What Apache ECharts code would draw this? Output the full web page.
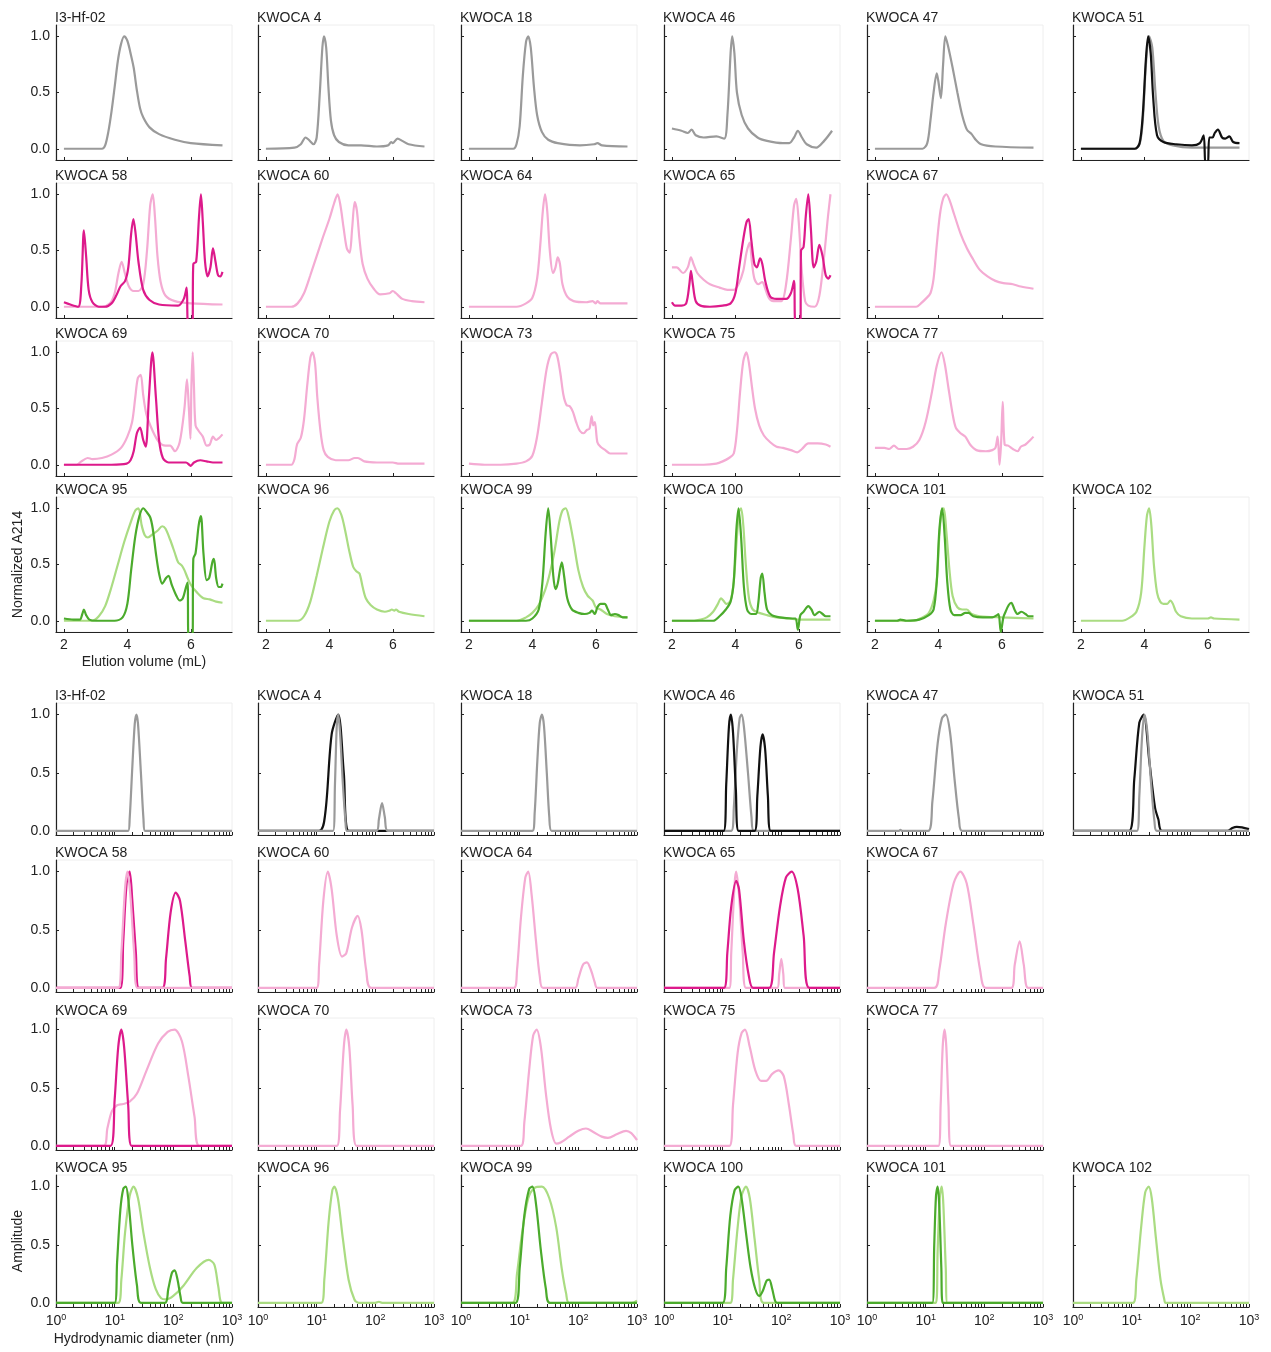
<!DOCTYPE html>
<html>
<head>
<meta charset="utf-8">
<title>SEC and DLS traces</title>
<script src="https://cdn.jsdelivr.net/npm/echarts@6/dist/echarts.min.js"></script>
<style>
html, body { margin: 0; padding: 0; background: #fff; }
#main { width: 1271px; height: 1352px; }
</style>
</head>
<body>
<div id="main"></div>
<script>
// ---------- SEC traces: [elution volume (mL), normalized A214] ----------
var s_I3Hf02 = [[2,0],[3.2,0],[3.3,0.03],[3.4,0.15],[3.5,0.33],[3.6,0.55],[3.7,0.78],[3.8,0.93],[3.9,1.0],[4.0,0.96],[4.1,0.85],[4.2,0.72],[4.3,0.52],[4.4,0.36],[4.5,0.28],[4.7,0.19],[5.0,0.13],[5.5,0.08],[6.0,0.05],[7.0,0.03]];
var s_K4 = [[2,0],[2.9,0.01],[3.1,0.04],[3.25,0.1],[3.35,0.08],[3.5,0.04],[3.6,0.1],[3.7,0.5],[3.78,0.9],[3.83,1.0],[3.9,0.9],[3.97,0.55],[4.05,0.25],[4.15,0.12],[4.3,0.06],[4.6,0.03],[5.0,0.03],[5.5,0.02],[5.85,0.03],[5.95,0.06],[6.0,0.05],[6.15,0.09],[6.3,0.07],[6.5,0.04],[7.0,0.02]];
var s_K18 = [[2,0],[3.4,0],[3.5,0.04],[3.6,0.2],[3.7,0.65],[3.8,0.95],[3.87,1.0],[3.95,0.9],[4.05,0.55],[4.15,0.3],[4.3,0.15],[4.5,0.08],[4.8,0.05],[5.5,0.03],[5.95,0.04],[6.05,0.05],[6.2,0.03],[7.0,0.02]];
var s_K46 = [[2,0.18],[2.3,0.16],[2.5,0.14],[2.62,0.17],[2.75,0.12],[3.0,0.1],[3.4,0.11],[3.65,0.09],[3.75,0.3],[3.85,0.85],[3.9,1.0],[3.97,0.85],[4.05,0.5],[4.2,0.3],[4.4,0.18],[4.7,0.1],[5.0,0.07],[5.5,0.05],[5.7,0.05],[5.85,0.1],[5.97,0.16],[6.1,0.1],[6.25,0.04],[6.55,0.01],[6.8,0.07],[7.05,0.16]];
var s_K47 = [[2,0],[3.5,0],[3.65,0.05],[3.75,0.25],[3.85,0.5],[3.95,0.67],[4.0,0.6],[4.08,0.45],[4.15,0.75],[4.22,1.0],[4.3,0.92],[4.45,0.72],[4.6,0.5],[4.75,0.3],[4.9,0.17],[5.05,0.13],[5.15,0.09],[5.35,0.04],[5.8,0.02],[7.0,0.01]];
var s_K51a = [[2,0],[3.7,0],[3.85,0.04],[3.95,0.25],[4.05,0.75],[4.15,1.0],[4.25,0.9],[4.35,0.5],[4.45,0.2],[4.6,0.07],[4.9,0.03],[5.5,0.01],[7.0,0.01]];
var s_K51b = [[2,0],[3.7,0],[3.85,0.05],[3.95,0.3],[4.05,0.8],[4.12,1.0],[4.2,0.85],[4.28,0.45],[4.4,0.12],[4.6,0.06],[5.0,0.04],[5.5,0.03],[5.75,0.05],[5.87,0.12],[5.93,-0.15],[6.0,-0.15],[6.05,0.1],[6.15,0.1],[6.22,0.14],[6.32,0.17],[6.45,0.1],[6.55,0.09],[6.68,0.11],[6.8,0.06],[7.0,0.05]];
var s_K58a = [[2,0],[3.2,0],[3.45,0.03],[3.6,0.12],[3.72,0.3],[3.82,0.4],[3.92,0.3],[4.05,0.18],[4.2,0.14],[4.35,0.14],[4.5,0.2],[4.62,0.5],[4.72,0.9],[4.8,1.0],[4.87,0.8],[4.95,0.45],[5.05,0.22],[5.2,0.1],[5.5,0.05],[6.0,0.03],[7.0,0.02]];
var s_K58b = [[2,0.04],[2.2,0.02],[2.45,0.0],[2.55,0.2],[2.63,0.68],[2.7,0.45],[2.78,0.15],[2.9,0.04],[3.1,0.0],[3.3,0.0],[3.5,0.03],[3.65,0.1],[3.78,0.18],[3.93,0.23],[4.03,0.35],[4.12,0.65],[4.19,0.78],[4.26,0.65],[4.35,0.4],[4.5,0.15],[4.7,0.06],[5.0,0.02],[5.6,0.01],[5.78,0.07],[5.87,0.17],[5.92,-0.15],[6.05,-0.15],[6.08,0.38],[6.17,0.4],[6.26,0.8],[6.32,1.0],[6.38,0.75],[6.45,0.4],[6.53,0.27],[6.62,0.35],[6.7,0.52],[6.78,0.4],[6.86,0.28],[6.93,0.27],[7.0,0.31]];
var s_K60 = [[2,0],[2.8,0],[3.0,0.03],[3.2,0.12],[3.4,0.28],[3.6,0.45],[3.8,0.62],[4.0,0.78],[4.15,0.92],[4.26,1.0],[4.35,0.9],[4.45,0.7],[4.55,0.52],[4.64,0.48],[4.72,0.7],[4.8,0.93],[4.87,0.85],[4.95,0.6],[5.05,0.38],[5.2,0.25],[5.4,0.16],[5.6,0.11],[5.9,0.12],[6.0,0.14],[6.1,0.12],[6.3,0.07],[6.6,0.05],[7.0,0.04]];
var s_K64 = [[2,0],[3.5,0],[3.8,0.03],[4.0,0.08],[4.15,0.25],[4.25,0.55],[4.33,0.85],[4.4,1.0],[4.47,0.85],[4.55,0.5],[4.65,0.3],[4.73,0.35],[4.8,0.44],[4.87,0.38],[4.95,0.2],[5.1,0.09],[5.3,0.05],[5.7,0.04],[5.9,0.05],[6.0,0.03],[6.05,0.05],[6.15,0.03],[7.0,0.03]];
var s_K65a = [[2,0.35],[2.15,0.35],[2.35,0.3],[2.5,0.35],[2.6,0.44],[2.68,0.38],[2.8,0.3],[3.0,0.24],[3.2,0.2],[3.5,0.17],[3.75,0.15],[3.95,0.15],[4.1,0.2],[4.25,0.32],[4.35,0.48],[4.45,0.57],[4.52,0.4],[4.6,0.25],[4.72,0.2],[4.85,0.22],[4.92,0.18],[5.05,0.08],[5.2,0.05],[5.45,0.05],[5.6,0.2],[5.75,0.6],[5.85,0.9],[5.92,0.96],[6.0,0.75],[6.1,0.3],[6.2,0.05],[6.3,0.01],[6.5,0.0],[6.65,0.1],[6.8,0.45],[6.92,0.8],[7.0,1.0]];
var s_K65b = [[2,0.04],[2.1,0.01],[2.3,0.01],[2.45,0.03],[2.55,0.2],[2.6,0.32],[2.66,0.2],[2.75,0.05],[2.9,0.01],[3.2,0.0],[3.6,0.01],[3.85,0.03],[4.0,0.12],[4.12,0.35],[4.25,0.6],[4.35,0.75],[4.42,0.78],[4.5,0.6],[4.6,0.38],[4.68,0.35],[4.78,0.43],[4.85,0.38],[4.95,0.22],[5.1,0.09],[5.3,0.07],[5.6,0.07],[5.75,0.12],[5.85,0.23],[5.9,-0.15],[6.05,-0.15],[6.07,0.5],[6.15,0.53],[6.22,0.8],[6.3,1.0],[6.38,0.7],[6.47,0.35],[6.55,0.4],[6.65,0.55],[6.75,0.45],[6.85,0.28],[6.93,0.25],[7.0,0.28]];
var s_K67 = [[2,0],[3.3,0],[3.45,0.03],[3.6,0.07],[3.75,0.12],[3.85,0.25],[3.95,0.55],[4.05,0.82],[4.15,0.96],[4.25,1.0],[4.35,0.95],[4.5,0.82],[4.7,0.65],[4.9,0.52],[5.1,0.42],[5.3,0.33],[5.55,0.27],[5.8,0.23],[6.05,0.21],[6.35,0.2],[6.6,0.18],[7.0,0.16]];
var s_K69a = [[2,0],[2.4,0],[2.55,0.03],[2.75,0.06],[2.9,0.05],[3.2,0.06],[3.5,0.09],[3.8,0.15],[4.0,0.25],[4.15,0.38],[4.25,0.6],[4.33,0.77],[4.42,0.8],[4.5,0.62],[4.6,0.45],[4.8,0.3],[5.0,0.2],[5.2,0.17],[5.35,0.17],[5.5,0.12],[5.65,0.2],[5.8,0.5],[5.88,0.76],[5.94,0.5],[5.99,0.23],[6.02,0.7],[6.06,1.0],[6.1,0.7],[6.15,0.35],[6.25,0.3],[6.38,0.25],[6.5,0.17],[6.6,0.18],[6.7,0.25],[6.8,0.22],[6.9,0.24],[7.0,0.27]];
var s_K69b = [[2,0],[3.5,0],[3.98,0.01],[4.1,0.04],[4.2,0.12],[4.3,0.28],[4.4,0.33],[4.5,0.22],[4.58,0.16],[4.68,0.6],[4.79,1.0],[4.9,0.6],[5.0,0.22],[5.12,0.06],[5.3,0.02],[5.85,0.02],[5.95,0.0],[6.0,-0.01],[6.1,0.02],[6.3,0.04],[6.5,0.03],[6.7,0.02],[7.0,0.02]];
var s_K70 = [[2,0],[2.8,0],[2.9,0.05],[2.98,0.18],[3.1,0.24],[3.2,0.4],[3.3,0.7],[3.4,0.95],[3.47,1.0],[3.55,0.9],[3.62,0.6],[3.72,0.3],[3.82,0.13],[3.95,0.07],[4.2,0.04],[4.6,0.04],[4.8,0.06],[4.9,0.06],[5.1,0.03],[5.5,0.02],[6.0,0.02],[6.2,0.01],[7.0,0.01]];
var s_K73 = [[2,0.01],[2.5,0.0],[3.0,0.0],[3.5,0.01],[3.8,0.03],[4.0,0.08],[4.15,0.25],[4.3,0.55],[4.45,0.85],[4.58,0.98],[4.7,1.0],[4.78,0.97],[4.88,0.82],[4.98,0.62],[5.08,0.53],[5.18,0.52],[5.28,0.47],[5.38,0.38],[5.5,0.3],[5.62,0.28],[5.72,0.31],[5.8,0.32],[5.87,0.43],[5.92,0.35],[5.97,0.38],[6.05,0.2],[6.15,0.16],[6.3,0.13],[6.45,0.1],[6.6,0.1],[6.8,0.1],[7.0,0.1]];
var s_K75 = [[2,0],[3.0,0],[3.4,0.01],[3.6,0.03],[3.8,0.06],[3.95,0.1],[4.05,0.3],[4.15,0.65],[4.25,0.92],[4.35,1.0],[4.43,0.9],[4.52,0.7],[4.62,0.5],[4.75,0.35],[4.9,0.26],[5.1,0.2],[5.3,0.16],[5.5,0.15],[5.75,0.13],[5.95,0.11],[6.1,0.14],[6.3,0.19],[6.6,0.19],[6.85,0.18],[7.0,0.16]];
var s_K77 = [[2,0.15],[2.3,0.15],[2.45,0.14],[2.6,0.17],[2.75,0.14],[3.0,0.14],[3.2,0.16],[3.4,0.22],[3.6,0.38],[3.8,0.65],[3.95,0.88],[4.1,1.0],[4.2,0.9],[4.32,0.68],[4.45,0.45],[4.55,0.33],[4.7,0.28],[4.85,0.25],[5.0,0.18],[5.2,0.13],[5.5,0.12],[5.7,0.13],[5.8,0.15],[5.87,0.25],[5.93,0.0],[5.98,0.2],[6.03,0.56],[6.09,0.18],[6.2,0.17],[6.35,0.14],[6.5,0.12],[6.6,0.16],[6.75,0.18],[6.9,0.22],[7.0,0.25]];
var s_K95a = [[2,0],[2.9,0],[3.1,0.04],[3.3,0.13],[3.5,0.3],[3.7,0.5],[3.9,0.7],[4.1,0.87],[4.25,0.98],[4.35,1.0],[4.45,0.85],[4.55,0.76],[4.65,0.74],[4.8,0.77],[4.95,0.8],[5.1,0.84],[5.2,0.82],[5.35,0.72],[5.5,0.6],[5.6,0.52],[5.72,0.49],[5.8,0.45],[5.9,0.38],[6.0,0.32],[6.2,0.25],[6.4,0.2],[6.6,0.19],[6.8,0.17],[7.0,0.16]];
var s_K95b = [[2,0.02],[2.3,0.01],[2.5,0.01],[2.58,0.06],[2.63,0.1],[2.7,0.05],[2.8,0.01],[3.0,0],[3.6,0],[3.85,0.03],[4.0,0.15],[4.12,0.45],[4.25,0.75],[4.38,0.93],[4.5,1.0],[4.6,0.97],[4.72,0.92],[4.8,0.82],[4.9,0.6],[5.0,0.42],[5.1,0.33],[5.22,0.38],[5.3,0.4],[5.4,0.32],[5.55,0.22],[5.65,0.18],[5.75,0.2],[5.85,0.3],[5.9,0.34],[5.93,-0.15],[6.05,-0.15],[6.08,0.55],[6.15,0.6],[6.25,0.85],[6.32,0.93],[6.4,0.6],[6.5,0.36],[6.58,0.38],[6.68,0.52],[6.73,0.55],[6.8,0.38],[6.88,0.3],[6.95,0.3],[7.0,0.33]];
var s_K96 = [[2,0],[3.0,0],[3.2,0.04],[3.4,0.17],[3.6,0.4],[3.8,0.65],[4.0,0.88],[4.15,0.98],[4.25,1.0],[4.38,0.94],[4.5,0.8],[4.62,0.63],[4.75,0.48],[4.85,0.44],[4.95,0.42],[5.05,0.3],[5.15,0.2],[5.3,0.14],[5.5,0.1],[5.75,0.08],[5.9,0.09],[5.97,0.1],[6.05,0.09],[6.1,0.1],[6.2,0.08],[6.5,0.06],[7.0,0.04]];
var s_K99a = [[2,0],[3.5,0],[3.8,0.03],[4.0,0.07],[4.2,0.14],[4.4,0.27],[4.55,0.42],[4.7,0.62],[4.85,0.88],[4.95,0.98],[5.05,1.0],[5.15,0.92],[5.3,0.7],[5.45,0.45],[5.6,0.3],[5.75,0.22],[5.9,0.18],[6.0,0.12],[6.15,0.1],[6.35,0.06],[6.6,0.04],[7.0,0.03]];
var s_K99b = [[2,0],[3.8,0],[4.0,0.02],[4.2,0.1],[4.32,0.35],[4.42,0.78],[4.5,1.0],[4.58,0.75],[4.66,0.4],[4.73,0.28],[4.8,0.33],[4.87,0.45],[4.93,0.52],[5.0,0.4],[5.1,0.2],[5.25,0.1],[5.45,0.07],[5.65,0.06],[5.8,0.07],[5.88,0.09],[5.97,0.06],[6.05,0.12],[6.15,0.15],[6.28,0.15],[6.38,0.1],[6.48,0.05],[6.6,0.06],[6.72,0.05],[6.85,0.03],[7.0,0.03]];
var s_K100a = [[2,0],[2.7,0],[2.9,0.01],[3.1,0.03],[3.3,0.08],[3.45,0.15],[3.55,0.2],[3.62,0.18],[3.72,0.15],[3.85,0.18],[3.95,0.35],[4.05,0.75],[4.12,0.97],[4.18,1.0],[4.25,0.85],[4.33,0.5],[4.43,0.2],[4.55,0.1],[4.75,0.07],[5.0,0.05],[5.3,0.03],[5.7,0.02],[6.0,0.01],[7.0,0.01]];
var s_K100b = [[2,0],[3.3,0],[3.5,0.04],[3.7,0.1],[3.85,0.17],[3.95,0.35],[4.03,0.8],[4.1,1.0],[4.18,0.75],[4.27,0.3],[4.37,0.1],[4.5,0.06],[4.65,0.06],[4.72,0.15],[4.8,0.38],[4.85,0.42],[4.92,0.25],[5.0,0.1],[5.15,0.05],[5.4,0.03],[5.8,0.02],[5.9,0.02],[5.97,-0.08],[6.05,0.05],[6.15,0.08],[6.3,0.13],[6.4,0.1],[6.5,0.05],[6.65,0.08],[6.75,0.06],[6.85,0.04],[7.0,0.04]];
var s_K101a = [[2,0],[3.2,0],[3.5,0.03],[3.7,0.07],[3.85,0.18],[3.95,0.35],[4.03,0.75],[4.1,0.97],[4.17,1.0],[4.25,0.8],[4.35,0.45],[4.45,0.22],[4.6,0.12],[4.75,0.1],[4.9,0.1],[5.05,0.06],[5.3,0.04],[6.0,0.03],[7.0,0.02]];
var s_K101b = [[2,0],[2.7,0],[2.8,0.01],[3.0,0],[3.4,0.01],[3.7,0.05],[3.85,0.1],[3.95,0.35],[4.03,0.8],[4.12,1.0],[4.2,0.75],[4.28,0.35],[4.38,0.1],[4.5,0.05],[4.7,0.05],[4.85,0.07],[4.95,0.07],[5.1,0.04],[5.4,0.03],[5.7,0.03],[5.85,0.05],[5.9,0.06],[5.97,-0.1],[6.05,0.03],[6.12,0.08],[6.22,0.14],[6.3,0.16],[6.4,0.1],[6.5,0.06],[6.62,0.08],[6.75,0.06],[6.85,0.04],[7.0,0.04]];
var s_K102 = [[2,0],[3.3,0],[3.55,0.03],[3.75,0.08],[3.9,0.25],[4.0,0.65],[4.08,0.93],[4.15,1.0],[4.22,0.85],[4.3,0.5],[4.4,0.25],[4.5,0.17],[4.6,0.15],[4.72,0.15],[4.82,0.18],[4.9,0.15],[5.0,0.08],[5.15,0.04],[5.5,0.02],[6.0,0.02],[6.1,0.03],[6.2,0.02],[7.0,0.01]];

// ---------- DLS traces: [hydrodynamic diameter (nm), amplitude] ----------
var d_I3Hf02 = [[1,0],[17,0],[18,0.1],[20,0.55],[22,0.92],[23.5,1.0],[25,0.92],[28,0.5],[31,0.1],[33,0],[1000,0]];
var d_K4a = [[1,0],[19,0],[20.5,0.4],[22,0.9],[23.3,1.0],[25,0.85],[28,0.4],[31,0.08],[33,0],[105,0],[115,0.1],[130,0.24],[145,0.12],[163,0],[1000,0]];
var d_K4b = [[1,0],[11,0],[14,0.15],[18,0.83],[23.3,1.0],[29,0.5],[35.5,0],[1000,0]];
var d_K18 = [[1,0],[16.5,0],[18,0.15],[20,0.6],[22,0.93],[24,1.0],[26,0.9],[29,0.5],[32,0.12],[35,0],[1000,0]];
var d_K46a = [[1,0],[14,0],[15.5,0.2],[17.5,0.7],[19.5,0.97],[21,1.0],[23,0.9],[27,0.5],[31,0.12],[34,0],[1000,0]];
var d_K46b = [[1,0],[10.4,0],[11.5,0.4],[12.8,0.9],[13.8,1.0],[15,0.85],[16.8,0.35],[18.7,0],[35,0],[39,0.3],[44,0.72],[48,0.83],[53,0.7],[59,0.3],[66,0],[1000,0]];
var d_K47 = [[1,0],[3.5,0],[3.7,0.01],[4,0],[11,0],[13,0.25],[16,0.75],[19,0.97],[22,1.0],[26,0.85],[31,0.45],[37,0.1],[42,0],[1000,0]];
var d_K51a = [[1,0],[12.3,0],[13.5,0.3],[15,0.8],[16.5,1.0],[18.5,0.85],[21.5,0.4],[24.5,0.08],[27,0],[1000,0]];
var d_K51b = [[1,0],[9,0],[11.1,0.45],[13.5,0.93],[16,1.0],[20,0.6],[25,0.2],[28.5,0.1],[33,0],[430,0],[520,0.025],[620,0.035],[760,0.03],[1000,0.015]];
var d_K58a = [[1,0],[11.5,0],[13,0.3],[15,0.85],[16.5,1.0],[18.5,0.8],[21.5,0.3],[24.5,0],[1000,0]];
var d_K58b = [[1,0],[12.5,0],[14,0.4],[16,0.9],[18,1.0],[20,0.75],[23,0.3],[26,0],[65,0],[75,0.25],[90,0.65],[110,0.82],[130,0.75],[160,0.4],[190,0.1],[210,0],[1000,0]];
var d_K60 = [[1,0],[10,0],[11,0.2],[13,0.75],[15.5,1.0],[18,0.85],[22,0.45],[27,0.27],[32,0.3],[40,0.52],[50,0.62],[58,0.5],[70,0.15],[85,0],[1000,0]];
var d_K64 = [[1,0],[8,0],[9,0.15],[10.5,0.6],[12.5,0.95],[14,1.0],[16,0.8],[19,0.4],[22,0.1],[25,0],[88,0],[100,0.08],[120,0.2],[140,0.22],[165,0.15],[190,0.05],[210,0],[1000,0]];
var d_K65a = [[1,0],[13,0],[14,0.3],[16,0.9],[17,1.0],[19,0.8],[22,0.3],[25,0],[85,0],[92,0.12],[100,0.25],[108,0.12],[115,0],[1000,0]];
var d_K65b = [[1,0],[10.5,0],[12,0.3],[14,0.7],[17,0.92],[19,0.85],[23,0.4],[28,0.1],[33,0],[62,0],[75,0.3],[95,0.7],[120,0.95],[150,1.0],[190,0.85],[240,0.45],[300,0],[1000,0]];
var d_K67 = [[1,0],[14,0],[17,0.15],[22,0.55],[30,0.9],[39,1.0],[50,0.9],[65,0.55],[85,0.15],[105,0],[290,0],[330,0.2],[400,0.4],[470,0.2],[560,0],[1000,0]];
var d_K69a = [[1,0],[6.5,0],[7.5,0.15],[9,0.3],[11,0.35],[14,0.36],[18,0.38],[24,0.45],[35,0.65],[55,0.88],[80,0.98],[105,1.0],[140,0.9],[180,0.6],[230,0.25],[280,0],[1000,0]];
var d_K69b = [[1,0],[8.5,0],[10,0.4],[11.5,0.85],[13,1.0],[14.5,0.85],[17,0.35],[19.5,0],[1000,0]];
var d_K70 = [[1,0],[22,0],[25,0.3],[29,0.85],[32,1.0],[36,0.85],[41,0.35],[48,0],[1000,0]];
var d_K73 = [[1,0],[10.5,0],[12,0.2],[14.5,0.65],[17,0.95],[19.5,1.0],[23,0.85],[28,0.45],[34,0.15],[42,0.02],[50,0.03],[70,0.08],[100,0.13],[135,0.15],[180,0.12],[250,0.08],[320,0.07],[450,0.1],[650,0.13],[800,0.11],[1000,0.05]];
var d_K75 = [[1,0],[13,0],[15,0.35],[18,0.8],[21,0.97],[24,1.0],[29,0.85],[36,0.65],[45,0.56],[55,0.56],[70,0.62],[90,0.65],[110,0.6],[135,0.35],[160,0.1],[180,0],[1000,0]];
var d_K77 = [[1,0],[16.5,0],[18,0.35],[19.5,0.85],[21,1.0],[22.5,0.85],[24.5,0.35],[27,0],[1000,0]];
var d_K95a = [[1,0],[11.5,0],[13,0.2],[15,0.6],[18,0.92],[21,1.0],[25,0.9],[31,0.6],[40,0.3],[50,0.12],[62,0.04],[75,0.03],[100,0.06],[150,0.15],[250,0.3],[400,0.37],[500,0.33],[580,0.15],[680,0],[1000,0]];
var d_K95b = [[1,0],[10,0],[11,0.35],[12.5,0.8],[14,0.98],[15.5,1.0],[17,0.9],[20,0.5],[24,0.15],[28,0],[72,0],[82,0.12],[95,0.26],[105,0.28],[118,0.2],[132,0.06],[145,0],[1000,0]];
var d_K96 = [[1,0],[12,0],[13.5,0.2],[16,0.7],[18.5,0.97],[20,1.0],[23,0.9],[28,0.55],[35,0.2],[44,0.03],[52,0],[100,0],[115,0.01],[130,0],[1000,0]];
var d_K99a = [[1,0],[7.5,0],[9,0.25],[11,0.6],[14,0.9],[18,0.99],[24,1.0],[32,0.9],[42,0.65],[52,0.3],[62,0.08],[70,0],[800,0],[1000,0.02]];
var d_K99b = [[1,0],[8.5,0],[10,0.3],[12,0.75],[14.5,0.98],[16.5,1.0],[19,0.85],[23,0.45],[28,0.12],[33,0],[1000,0]];
var d_K100a = [[1,0],[13.5,0],[15,0.2],[18,0.65],[21,0.92],[25,1.0],[29,0.9],[35,0.55],[42,0.2],[50,0],[1000,0]];
var d_K100b = [[1,0],[10,0],[11.5,0.3],[13.5,0.75],[16,0.97],[18.5,1.0],[21,0.9],[25,0.6],[30,0.3],[36,0.12],[42,0.06],[48,0.1],[56,0.19],[62,0.2],[70,0.12],[78,0.02],[85,0],[1000,0]];
var d_K101a = [[1,0],[15,0],[16,0.45],[17.5,0.92],[18.8,1.0],[20,0.85],[22,0.3],[23.5,0],[1000,0]];
var d_K101b = [[1,0],[13,0],[14,0.5],[15,0.92],[16,1.0],[17,0.85],[18.5,0.3],[19.5,0],[1000,0]];
var d_K102 = [[1,0],[10.5,0],[12,0.2],[14.5,0.65],[17,0.95],[19.5,1.0],[22,0.9],[26,0.55],[31,0.2],[36,0.03],[38,0],[1000,0]];

// tick values
var secTicks = [2, 4, 6];
var yTicks = [0, 0.5, 1.0];
var dlsLabels = [1, 10, 100, 1000];
var dlsTicks = [1,2,3,4,5,6,7,8,9,10,20,30,40,50,60,70,80,90,100,200,300,400,500,600,700,800,900,1000];

var GRAY = '#9a9a9a', BLACK = '#111111', PINK = '#f4abd3', MAGENTA = '#dd1a8b', LGREEN = '#aadc82', DGREEN = '#4bab2c';

// panels: title, row, col, traces in draw order
var secPanels = [
    {t: 'I3-Hf-02', r: 0, c: 0, lines: [[s_I3Hf02, GRAY]]},
    {t: 'KWOCA 4', r: 0, c: 1, lines: [[s_K4, GRAY]]},
    {t: 'KWOCA 18', r: 0, c: 2, lines: [[s_K18, GRAY]]},
    {t: 'KWOCA 46', r: 0, c: 3, lines: [[s_K46, GRAY]]},
    {t: 'KWOCA 47', r: 0, c: 4, lines: [[s_K47, GRAY]]},
    {t: 'KWOCA 51', r: 0, c: 5, lines: [[s_K51a, GRAY], [s_K51b, BLACK]]},
    {t: 'KWOCA 58', r: 1, c: 0, lines: [[s_K58a, PINK], [s_K58b, MAGENTA]]},
    {t: 'KWOCA 60', r: 1, c: 1, lines: [[s_K60, PINK]]},
    {t: 'KWOCA 64', r: 1, c: 2, lines: [[s_K64, PINK]]},
    {t: 'KWOCA 65', r: 1, c: 3, lines: [[s_K65a, PINK], [s_K65b, MAGENTA]]},
    {t: 'KWOCA 67', r: 1, c: 4, lines: [[s_K67, PINK]]},
    {t: 'KWOCA 69', r: 2, c: 0, lines: [[s_K69a, PINK], [s_K69b, MAGENTA]]},
    {t: 'KWOCA 70', r: 2, c: 1, lines: [[s_K70, PINK]]},
    {t: 'KWOCA 73', r: 2, c: 2, lines: [[s_K73, PINK]]},
    {t: 'KWOCA 75', r: 2, c: 3, lines: [[s_K75, PINK]]},
    {t: 'KWOCA 77', r: 2, c: 4, lines: [[s_K77, PINK]]},
    {t: 'KWOCA 95', r: 3, c: 0, lines: [[s_K95a, LGREEN], [s_K95b, DGREEN]]},
    {t: 'KWOCA 96', r: 3, c: 1, lines: [[s_K96, LGREEN]]},
    {t: 'KWOCA 99', r: 3, c: 2, lines: [[s_K99a, LGREEN], [s_K99b, DGREEN]]},
    {t: 'KWOCA 100', r: 3, c: 3, lines: [[s_K100a, LGREEN], [s_K100b, DGREEN]]},
    {t: 'KWOCA 101', r: 3, c: 4, lines: [[s_K101a, LGREEN], [s_K101b, DGREEN]]},
    {t: 'KWOCA 102', r: 3, c: 5, lines: [[s_K102, LGREEN]]}
];
var dlsPanels = [
    {t: 'I3-Hf-02', r: 0, c: 0, lines: [[d_I3Hf02, GRAY]]},
    {t: 'KWOCA 4', r: 0, c: 1, lines: [[d_K4b, BLACK], [d_K4a, GRAY]]},
    {t: 'KWOCA 18', r: 0, c: 2, lines: [[d_K18, GRAY]]},
    {t: 'KWOCA 46', r: 0, c: 3, lines: [[d_K46a, GRAY], [d_K46b, BLACK]]},
    {t: 'KWOCA 47', r: 0, c: 4, lines: [[d_K47, GRAY]]},
    {t: 'KWOCA 51', r: 0, c: 5, lines: [[d_K51b, BLACK], [d_K51a, GRAY]]},
    {t: 'KWOCA 58', r: 1, c: 0, lines: [[d_K58b, MAGENTA], [d_K58a, PINK]]},
    {t: 'KWOCA 60', r: 1, c: 1, lines: [[d_K60, PINK]]},
    {t: 'KWOCA 64', r: 1, c: 2, lines: [[d_K64, PINK]]},
    {t: 'KWOCA 65', r: 1, c: 3, lines: [[d_K65a, PINK], [d_K65b, MAGENTA]]},
    {t: 'KWOCA 67', r: 1, c: 4, lines: [[d_K67, PINK]]},
    {t: 'KWOCA 69', r: 2, c: 0, lines: [[d_K69a, PINK], [d_K69b, MAGENTA]]},
    {t: 'KWOCA 70', r: 2, c: 1, lines: [[d_K70, PINK]]},
    {t: 'KWOCA 73', r: 2, c: 2, lines: [[d_K73, PINK]]},
    {t: 'KWOCA 75', r: 2, c: 3, lines: [[d_K75, PINK]]},
    {t: 'KWOCA 77', r: 2, c: 4, lines: [[d_K77, PINK]]},
    {t: 'KWOCA 95', r: 3, c: 0, lines: [[d_K95a, LGREEN], [d_K95b, DGREEN]]},
    {t: 'KWOCA 96', r: 3, c: 1, lines: [[d_K96, LGREEN]]},
    {t: 'KWOCA 99', r: 3, c: 2, lines: [[d_K99a, LGREEN], [d_K99b, DGREEN]]},
    {t: 'KWOCA 100', r: 3, c: 3, lines: [[d_K100a, LGREEN], [d_K100b, DGREEN]]},
    {t: 'KWOCA 101', r: 3, c: 4, lines: [[d_K101a, LGREEN], [d_K101b, DGREEN]]},
    {t: 'KWOCA 102', r: 3, c: 5, lines: [[d_K102, LGREEN]]}
];

var FONT = 'Liberation Sans, Arial, sans-serif';
var INK = '#222';
var colLeft = [56, 258, 461, 664, 867, 1073];
var panelW = 176;

var option = {
    animation: false,
    backgroundColor: '#fff',
    title: [], grid: [], xAxis: [], yAxis: [], series: []
};

function addBlock(panels, blk) {
    panels.forEach(function (p) {
        var gi = option.grid.length;
        var top = blk.bottoms[p.r] - blk.h;
        var last = p.r === 3, first = p.c === 0;
        option.grid.push({
            left: colLeft[p.c], top: top, width: panelW, height: blk.h,
            show: true, borderColor: '#eeeeee', borderWidth: 1, backgroundColor: 'transparent'
        });
        option.title.push({
            text: p.t, left: colLeft[p.c] - 1, top: top - 14, padding: 0,
            textStyle: {fontSize: 14, fontWeight: 'normal', color: INK, fontFamily: FONT}
        });
        var xa = {
            type: blk.xType, gridIndex: gi, min: blk.xMin, max: blk.xMax,
            axisLine: {show: true, onZero: false, lineStyle: {color: INK, width: 1.2}},
            axisTick: {show: true, inside: true, length: 3, customValues: blk.xTicks, lineStyle: {color: INK, width: 1}},
            axisLabel: {show: last, customValues: blk.xLabels, color: INK, fontSize: 14, fontFamily: FONT, margin: 6},
            splitLine: {show: false}, minorTick: {show: false}
        };
        if (blk.xType === 'log') {
            xa.logBase = 10;
            xa.axisLabel.formatter = function (v) {
                return '{b|10}{s|' + Math.round(Math.log10(v)) + '}';
            };
            xa.axisLabel.rich = {
                b: {fontSize: 14, color: INK, fontFamily: FONT, lineHeight: 16},
                s: {fontSize: 9, color: INK, fontFamily: FONT, verticalAlign: 'top', lineHeight: 10}
            };
        }
        if (last && first) {
            xa.name = blk.xName;
            xa.nameLocation = 'middle';
            xa.nameGap = blk.xNameGap;
            xa.nameTextStyle = {fontSize: 14, color: INK, fontFamily: FONT};
        }
        option.xAxis.push(xa);
        var ya = {
            type: 'value', gridIndex: gi, min: blk.yMin, max: 1.1,
            axisLine: {show: true, onZero: false, lineStyle: {color: INK, width: 1.2}},
            axisTick: {show: true, inside: true, length: 3, customValues: yTicks, lineStyle: {color: INK, width: 1}},
            axisLabel: {show: first, customValues: yTicks, color: INK, fontSize: 14, fontFamily: FONT, margin: 6,
                formatter: function (v) { return v.toFixed(1); }},
            splitLine: {show: false}
        };
        if (last && first) {
            ya.name = blk.yName;
            ya.nameLocation = 'middle';
            ya.nameGap = 31;
            ya.nameTextStyle = {fontSize: 14, color: INK, fontFamily: FONT};
        }
        option.yAxis.push(ya);
        p.lines.forEach(function (ln) {
            option.series.push({
                type: 'line', xAxisIndex: gi, yAxisIndex: gi, data: ln[0],
                showSymbol: false, smooth: 0.3, clip: true,
                lineStyle: {color: ln[1], width: 2.2}, itemStyle: {color: ln[1]}
            });
        });
    });
}

addBlock(secPanels, {
    bottoms: [160, 318, 476, 632], h: 135, xType: 'value', xMin: 1.75, xMax: 7.3,
    xTicks: secTicks, xLabels: secTicks, yMin: -0.1,
    xName: 'Elution volume (mL)', xNameGap: 23, yName: 'Normalized A214'
});
addBlock(dlsPanels, {
    bottoms: [835, 992, 1150, 1307], h: 132, xType: 'log', xMin: 1, xMax: 1000,
    xTicks: dlsTicks, xLabels: dlsLabels, yMin: -0.035,
    xName: 'Hydrodynamic diameter (nm)', xNameGap: 25, yName: 'Amplitude'
});

var myChart = echarts.init(document.getElementById('main'));
myChart.setOption(option);
</script>
</body>
</html>
